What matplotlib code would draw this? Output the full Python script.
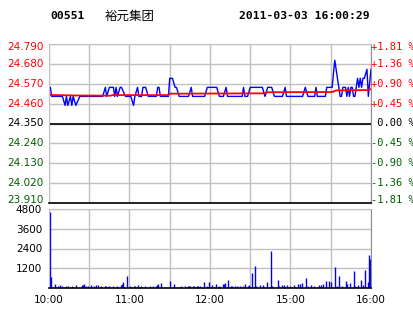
import numpy as np
import matplotlib
matplotlib.use('Agg')
import matplotlib.pyplot as plt
import matplotlib.transforms as mtransforms

# Header
code = '00551'
name = '裕元集团'
stamp = '2011-03-03 16:00:29'

# Price axis (prev close 24.35)
price_ticks = [24.79, 24.68, 24.57, 24.46, 24.35, 24.24, 24.13, 24.02, 23.91]
price_labels = ['24.790', '24.680', '24.570', '24.460', '24.350', '24.240', '24.130', '24.020', '23.910']
pct_labels = ['+1.81 %', '+1.36 %', '+0.90 %', '+0.45 %', ' 0.00 %', '-0.45 %', '-0.90 %', '-1.36 %', '-1.81 %']

# Time axis: minutes after 10:00 (session break 12:30-14:30 collapsed)
time_labels = ['10:00', '', '11:00', '', '12:00', '', '15:00', '', '16:00']

# Last price (minute, price) vertices
price_min = [0, 1, 2, 10, 12, 13, 14, 16, 17, 18, 20, 23, 40, 42, 43, 45, 48, 49, 50, 51, 53, 54,
             57, 61, 63, 64, 66, 67, 69, 70, 72, 74, 80, 81, 82, 83, 89, 90, 92, 94, 95, 97,
             104, 106, 107, 116, 118, 125, 127, 130, 132, 133, 144, 145, 146, 148, 150, 159,
             161, 163, 166, 168, 174, 176, 177, 189, 191, 193, 198, 199, 200, 206, 207, 211,
             213, 214, 215, 216, 217, 218, 219, 221, 222, 223, 224, 225, 226, 227, 228, 230,
             231, 232, 233, 234, 235, 237, 238, 240]
price_val = [24.55, 24.55, 24.50, 24.50, 24.45, 24.50, 24.45, 24.50, 24.45, 24.50, 24.45, 24.50,
             24.50, 24.55, 24.50, 24.55, 24.55, 24.50, 24.55, 24.50, 24.55, 24.55,
             24.50, 24.50, 24.45, 24.50, 24.55, 24.50, 24.50, 24.55, 24.55, 24.50, 24.50,
             24.55, 24.55, 24.50, 24.50, 24.60, 24.60, 24.55, 24.55, 24.50,
             24.50, 24.55, 24.50, 24.50, 24.55, 24.55, 24.50, 24.50, 24.55, 24.50, 24.50,
             24.55, 24.50, 24.50, 24.55, 24.55,
             24.50, 24.55, 24.55, 24.50, 24.50, 24.55, 24.50, 24.50, 24.55, 24.50, 24.50,
             24.55, 24.50, 24.50, 24.55, 24.55,
             24.70, 24.65, 24.60, 24.55, 24.50, 24.50, 24.55, 24.55, 24.50, 24.55, 24.50,
             24.55, 24.55, 24.50, 24.50, 24.60,
             24.55, 24.60, 24.55, 24.60, 24.60, 24.65, 24.50, 24.65]

# Average price vertices
avg_min = [0, 20, 46, 47, 89, 90, 161, 162, 211, 214, 237, 240]
avg_val = [24.508, 24.505, 24.504, 24.507, 24.507, 24.515, 24.517, 24.523, 24.524, 24.533, 24.535, 24.54]

# Volume per minute (sparse)
vol_min = [0, 1, 4, 6, 8, 9, 12, 14, 17, 20, 24, 25, 26, 27, 29, 31, 33, 35, 36, 38, 41, 42, 44,
           47, 50, 53, 54, 55, 58, 60, 63, 64, 66, 68, 71, 75, 77, 79, 80, 81, 83, 90, 93, 98,
           101, 103, 104, 105, 107, 108, 110, 111, 112, 115, 117, 119, 121, 124, 126, 129, 130,
           131, 133, 135, 136, 138, 140, 142, 144, 146, 148, 149, 151, 153, 154, 157, 159, 162,
           165, 166, 170, 171, 173, 175, 177, 179, 182, 185, 187, 188, 191, 193, 195, 197, 201,
           202, 204, 206, 208, 210, 213, 214, 216, 218, 221, 222, 224, 227, 228, 230, 232, 234,
           235, 237, 238, 239]
vol_val = [4620, 690, 240, 120, 180, 120, 120, 120, 120, 180, 180, 180, 240, 120, 120, 180, 120,
           180, 180, 120, 120, 120, 120, 120, 120, 180, 240, 380, 730, 120, 120, 120, 180, 120,
           120, 120, 120, 120, 180, 240, 285, 425, 260, 120,
           120, 120, 120, 120, 120, 120, 120, 120, 120, 340, 120, 340, 180, 260, 120, 260, 260,
           285, 485, 120, 120, 120, 120, 120, 120, 260, 120, 180, 930, 1360, 120, 180, 180, 340,
           2270, 120, 460, 120, 180, 180, 180, 120, 180, 220, 220, 285, 625, 120, 180, 120, 180,
           180, 220, 400, 400, 340, 1300, 120, 730, 120, 400, 260, 285, 1050, 120, 180, 485, 180,
           1100, 340, 2000, 1760]
vol_ticks = [1200, 2400, 3600, 4800]

RED = '#ff0000'
GREEN = '#006000'
GRID = '#c0c0c0'

fig = plt.figure(figsize=(4.14, 3.14), dpi=100)
fig.patch.set_facecolor('white')

W, H = 414.0, 314.0
def rect(x0, y0, x1, y1):
    return [x0 / W, 1 - y1 / H, (x1 - x0) / W, (y1 - y0) / H]

def style_panel(a):
    a.set_xlim(0, 240)
    a.set_xticks(np.arange(0, 241, 30))
    a.grid(True, color=GRID, linewidth=1.0)
    a.set_axisbelow(True)
    for s in ['left', 'top']:
        a.spines[s].set_color(GRID)
    a.spines['right'].set_color('#909090')
    a.spines['bottom'].set_color('black')
    a.spines['bottom'].set_linewidth(1.2)

# --- price panel
ax = fig.add_axes(rect(49, 44, 371, 203))
style_panel(ax)
ax.set_ylim(23.91, 24.79)
ax.set_yticks(price_ticks)
ax.tick_params(length=0, labelbottom=False, labelleft=False)
ax.axhline(24.35, color='black', linewidth=1.2)

ax.plot(price_min, price_val, color='#0000ff', linewidth=1.0)
ax.plot(avg_min, avg_val, color=RED, linewidth=1.3)

trans = mtransforms.blended_transform_factory(ax.transAxes, ax.transData)
n = len(price_ticks)
for i, (v, lab, pct) in enumerate(zip(price_ticks, price_labels, pct_labels)):
    c = RED if pct.startswith('+') else ('black' if pct.startswith(' ') else GREEN)
    dy = -3 if i == 0 else (3 if i == n - 1 else 0)
    tl = mtransforms.offset_copy(trans, fig=fig, x=-5, y=dy, units='dots')
    tr = mtransforms.offset_copy(trans, fig=fig, x=0, y=dy, units='dots')
    ax.text(0.0, v, lab, transform=tl, ha='right', va='center', fontsize=7.5,
            family='DejaVu Sans', color=c, clip_on=False)
    ax.text(1.0, v, pct, transform=tr, ha='left', va='center', fontsize=7.5,
            family='DejaVu Sans Mono', color=c, clip_on=False)

# --- volume panel
vx = fig.add_axes(rect(49, 209, 371, 288))
style_panel(vx)
vx.set_ylim(0, 4800)
vx.set_xticklabels(time_labels)
vx.set_yticks(vol_ticks)
vx.set_yticklabels([str(v) for v in vol_ticks], fontsize=7.5)
vx.get_yticklabels()[-1].set_transform(
    vx.get_yticklabels()[-1].get_transform() + mtransforms.Affine2D().translate(0, -3))
vx.tick_params(length=0, pad=5, labelsize=7.5)
vx.vlines(np.array(vol_min) + 0.4, 0, vol_val, color='#0000ff', linewidth=1.0)

# --- header
fig.text(50 / W, 1 - 16 / H, code, fontsize=8.2, family='DejaVu Sans Mono', weight='bold',
         va='center', ha='left')
fig.text(105 / W, 1 - 16 / H, name, fontsize=9, family=['Noto Sans CJK SC', 'DejaVu Sans'],
         va='center', ha='left')
fig.text(370 / W, 1 - 16 / H, stamp, fontsize=8.2, family='DejaVu Sans Mono', weight='bold',
         va='center', ha='right')

fig.savefig('out.png', dpi=100, facecolor='white')
